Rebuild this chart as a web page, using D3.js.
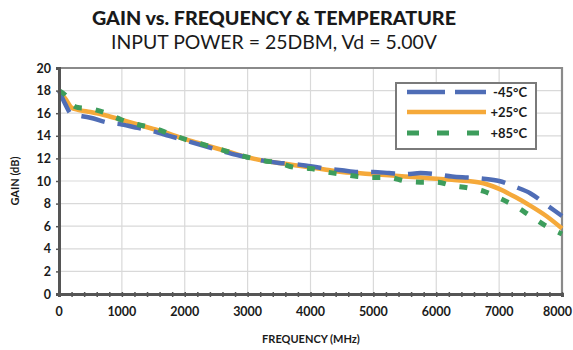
<!DOCTYPE html>
<html>
<head>
<meta charset="utf-8">
<script src="https://cdn.jsdelivr.net/npm/d3@7"></script>
<style>
  html, body { margin: 0; padding: 0; background: #fff; }
  svg { display: block; font-family: Lato, "Open Sans", sans-serif; }
</style>
</head>
<body>
<svg id="chart" width="573" height="350"></svg>
<script>
// Frequency sweep points (MHz)
const freqs = [0, 100, 200, 300, 500, 750, 1000, 1250, 1500, 1750, 2000, 2250, 2500, 2750,
  3000, 3250, 3500, 3750, 4000, 4250, 4500, 4750, 5000, 5250, 5500, 5750, 6000, 6250,
  6500, 6750, 7000, 7250, 7500, 7750, 8000];

// Gain (dB) at each temperature
const gainMinus45 = [18.0, 16.8, 15.9, 15.8, 15.6, 15.2, 15.0, 14.7, 14.4, 14.0, 13.6, 13.2, 12.8, 12.4,
  12.1, 11.8, 11.6, 11.5, 11.3, 11.1, 10.95, 10.8, 10.8, 10.7, 10.6, 10.7, 10.6, 10.4,
  10.3, 10.2, 10.0, 9.5, 8.9, 7.9, 6.9];
const gainPlus25 = [18.0, 17.3, 16.5, 16.3, 16.1, 15.8, 15.4, 15.0, 14.6, 14.2, 13.7, 13.3, 12.9, 12.5,
  12.1, 11.8, 11.6, 11.4, 11.2, 11.0, 10.8, 10.7, 10.6, 10.5, 10.4, 10.3, 10.2, 10.1,
  10.0, 9.8, 9.3, 8.6, 7.8, 6.9, 5.8];
const gainPlus85 = [18.0, 17.6, 16.8, 16.5, 16.4, 16.0, 15.4, 15.0, 14.7, 14.2, 13.7, 13.3, 12.9, 12.5,
  12.1, 11.8, 11.6, 11.2, 11.1, 10.8, 10.6, 10.4, 10.3, 10.3, 10.0, 9.9, 9.9, 9.6,
  9.4, 9.1, 8.5, 7.8, 6.9, 6.0, 5.3];

const seriesNames = ["-45°C", "+25°C", "+85°C"];
const xTicks = [0, 1000, 2000, 3000, 4000, 5000, 6000, 7000, 8000];
const yTicks = [0, 2, 4, 6, 8, 10, 12, 14, 16, 18, 20];

const series = [
  { name: seriesNames[0], values: gainMinus45, color: "#4f6db6", width: 4.5, dash: "24,13", legendDash: "38,10" },
  { name: seriesNames[1], values: gainPlus25, color: "#f5a93a", width: 4.5, dash: null, legendDash: null },
  { name: seriesNames[2], values: gainPlus85, color: "#3d9d5c", width: 5, dash: "8,14", legendDash: "12,18" }
];

const svg = d3.select("#chart");
const x = d3.scaleLinear().domain([0, 8000]).range([59, 562]);
const y = d3.scaleLinear().domain([0, 20]).range([294, 68]);

// Titles
svg.append("text").attr("x", 274).attr("y", 25).attr("text-anchor", "middle")
  .attr("font-size", 18).attr("font-weight", 900).attr("fill", "#1a1a1a")
  .attr("textLength", 364).attr("lengthAdjust", "spacingAndGlyphs")
  .text("GAIN vs. FREQUENCY & TEMPERATURE");
svg.append("text").attr("x", 274).attr("y", 49).attr("text-anchor", "middle")
  .attr("font-size", 19).attr("font-weight", 400).attr("fill", "#1a1a1a")
  .attr("textLength", 326).attr("lengthAdjust", "spacingAndGlyphs")
  .text("INPUT POWER = 25DBM, Vd = 5.00V");

// Grid
const grid = svg.append("g");
grid.selectAll("line.h").data(yTicks.slice(1, -1)).join("line")
  .attr("x1", x(0)).attr("x2", x(8000)).attr("y1", d => y(d)).attr("y2", d => y(d))
  .attr("stroke", "#d9d9d9").attr("stroke-width", 1.2);
grid.selectAll("line.v").data(xTicks.slice(1, -1)).join("line")
  .attr("x1", d => x(d)).attr("x2", d => x(d)).attr("y1", y(0)).attr("y2", y(20))
  .attr("stroke", "#d9d9d9").attr("stroke-width", 1.2);

// Frame: top and right edges
svg.append("path")
  .attr("d", `M${x(0)},${y(20)}H${x(8000)}V${y(0)}`)
  .attr("fill", "none").attr("stroke", "#8a8a8a").attr("stroke-width", 2.2);

// Curves
const line = d3.line().x((d, i) => x(freqs[i])).y(d => y(d)).curve(d3.curveMonotoneX);
const order = [1, 0, 2];
order.forEach(k => {
  const s = series[k];
  svg.append("path").datum(s.values)
    .attr("d", line)
    .attr("fill", "none")
    .attr("stroke", s.color)
    .attr("stroke-width", s.width)
    .attr("stroke-dasharray", s.dash)
    .attr("stroke-linejoin", "round");
});

// Axes
const xAxis = d3.axisBottom(x).tickValues(d3.range(0, 8001, 200)).tickSize(3).tickFormat("");
svg.append("g").attr("transform", `translate(0,${y(0)})`).call(xAxis)
  .call(g => g.select(".domain").attr("stroke", "#555").attr("stroke-width", 3))
  .call(g => g.selectAll(".tick line").attr("stroke", "#555").attr("stroke-width", 1.5).attr("y1", -2));
const yAxis = d3.axisLeft(y).tickValues(yTicks).tickSize(3).tickFormat("");
svg.append("g").attr("transform", `translate(${x(0)},0)`).call(yAxis)
  .call(g => g.select(".domain").attr("stroke", "#555").attr("stroke-width", 3))
  .call(g => g.selectAll(".tick line").attr("stroke", "#555").attr("stroke-width", 1.5));

// Tick labels (the last one is kept inside the page edge)
svg.append("g").selectAll("text").data(xTicks).join("text")
  .attr("x", d => d === 8000 ? 572 : x(d)).attr("y", 316)
  .attr("text-anchor", d => d === 8000 ? "end" : "middle")
  .attr("font-size", 12.5).attr("font-weight", 700).attr("fill", "#1a1a1a")
  .text(d => d);
svg.append("g").selectAll("text").data(yTicks).join("text")
  .attr("x", 51).attr("y", d => y(d) + 4.5).attr("text-anchor", "end")
  .attr("font-size", 12.5).attr("font-weight", 700).attr("fill", "#1a1a1a")
  .text(d => d);

// Axis titles
svg.append("text").attr("x", 311).attr("y", 343).attr("text-anchor", "middle")
  .attr("font-size", 11).attr("font-weight", 700).attr("fill", "#1a1a1a")
  .text("FREQUENCY (MHz)");
svg.append("text").attr("transform", `translate(19,${(y(0) + y(20)) / 2}) rotate(-90)`)
  .attr("text-anchor", "middle")
  .attr("font-size", 11).attr("font-weight", 700).attr("fill", "#1a1a1a")
  .text("GAIN (dB)");

// Legend
const lg = svg.append("g");
lg.append("rect").attr("x", 396).attr("y", 83).attr("width", 140).attr("height", 66)
  .attr("fill", "#fff").attr("stroke", "#7a7a7a").attr("stroke-width", 2);
const rowY = [92, 112, 133];
series.forEach((s, i) => {
  lg.append("line").attr("x1", 407).attr("x2", 486).attr("y1", rowY[i]).attr("y2", rowY[i])
    .attr("stroke", s.color).attr("stroke-width", s.width)
    .attr("stroke-dasharray", s.legendDash);
  lg.append("text").attr("x", 527).attr("y", rowY[i] + 5).attr("text-anchor", "end")
    .attr("font-size", 13).attr("font-weight", 700).attr("fill", "#1a1a1a")
    .text(s.name);
});
</script>
</body>
</html>
